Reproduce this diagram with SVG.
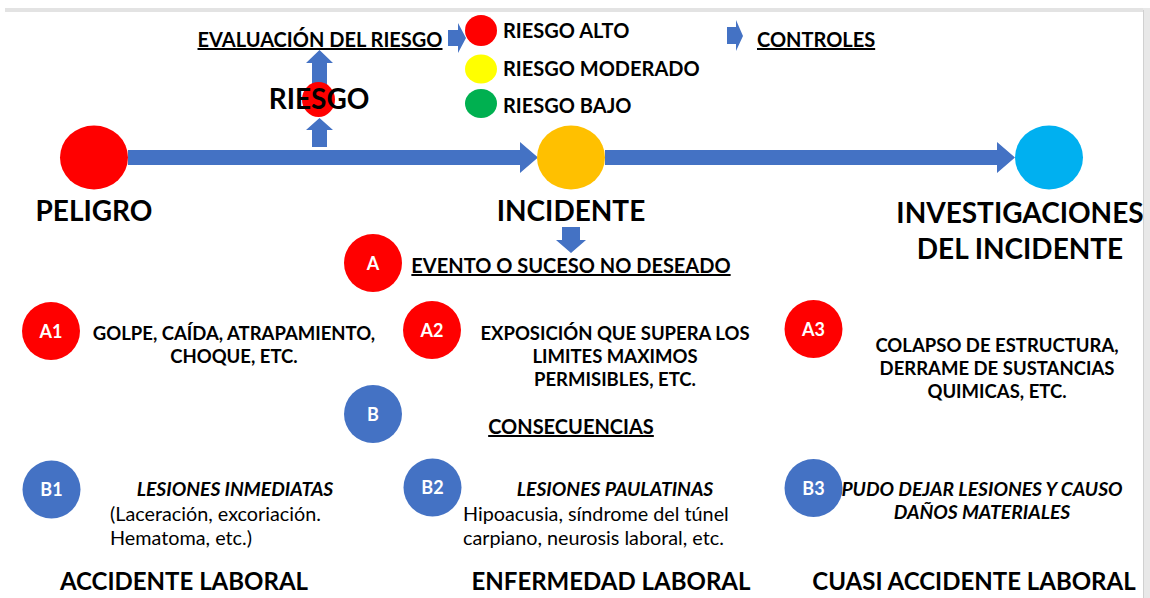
<svg xmlns="http://www.w3.org/2000/svg" width="1150" height="598" viewBox="0 0 1150 598">
<style>
text{font-family:Lato,"Open Sans","Liberation Sans",sans-serif;fill:#000}
.b{font-weight:bold}
.big{font-weight:bold;font-size:28px}
.mid{font-weight:bold;font-size:18.5px}
.mu{font-weight:bold;font-size:20px;text-decoration:underline}
.leg{font-weight:bold;font-size:20px}
.u{text-decoration:underline}
.sm{font-size:19.8px}
.it{font-weight:bold;font-style:italic;font-size:19.3px}
.lbl{font-weight:bold;font-size:18px;fill:#fff}
.bot{font-weight:bold;font-size:24px}
.c{text-anchor:middle}
.arr{fill:#4472C4}
</style>
<rect width="1150" height="598" fill="#fff"/>
<rect x="5" y="8" width="1145" height="4" fill="#e3e3e3"/>
<rect x="1143" y="8" width="7" height="590" fill="#e8e8e8"/>
<line x1="1143.5" y1="10" x2="1143.5" y2="598" stroke="#d0d0d0" stroke-width="1"/>

<g id="connectors">
  <polygon class="arr" points="128,150 520,150 520,142 538,157.5 520,173 520,165 128,165"/>
  <polygon class="arr" points="605,150 997,150 997,142 1015,157.5 997,173 997,165 605,165"/>
  <polygon class="arr" points="312,147 312,130 306,130 319.5,118 333,130 327,130 327,147"/>
  <polygon class="arr" points="312,95 312,63 306,63 319.5,50 333,63 327,63 327,95"/>
  <polygon class="arr" points="448,30 458,30 458,23 466,38 458,53 458,46 448,46"/>
  <polygon class="arr" points="727,27 736,27 736,20 743,36 736,51 736,44 727,44"/>
  <polygon class="arr" points="562,227 580,227 580,240 586,240 571,253 556,240 562,240"/>
</g>

<g id="peligro">
  <ellipse cx="94" cy="157.5" rx="34" ry="32" fill="#FF0000"/>
  <text class="big c" x="94" y="221">PELIGRO</text>
</g>
<g id="incidente">
  <ellipse cx="571" cy="157.5" rx="34" ry="32" fill="#FFC000"/>
  <text class="big c" x="571" y="221">INCIDENTE</text>
</g>
<g id="investigaciones">
  <ellipse cx="1049" cy="157.5" rx="34" ry="32" fill="#00B0F0"/>
  <text class="big c" x="1020" y="223">INVESTIGACIONES</text>
  <text class="big c" x="1020" y="259">DEL INCIDENTE</text>
</g>
<g id="riesgo">
  <ellipse cx="318.5" cy="99.5" rx="16.5" ry="17.5" fill="#FF0000"/>
  <text class="b c" x="319" y="109" font-size="28">RIESGO</text>
</g>
<g id="evaluacion">
  <text class="leg u c" x="320" y="47">EVALUACIÓN DEL RIESGO</text>
</g>
<g id="riesgo-alto">
  <ellipse cx="481" cy="30.5" rx="16" ry="15.5" fill="#FF0000"/>
  <text class="leg" x="503" y="38">RIESGO ALTO</text>
</g>
<g id="riesgo-moderado">
  <ellipse cx="481" cy="69" rx="16" ry="14.5" fill="#FFFF00"/>
  <text class="leg" x="503" y="76">RIESGO MODERADO</text>
</g>
<g id="riesgo-bajo">
  <ellipse cx="481" cy="103.5" rx="16" ry="14.5" fill="#00B050"/>
  <text class="leg" x="503" y="113">RIESGO BAJO</text>
</g>
<g id="controles">
  <text class="leg u" x="757" y="47">CONTROLES</text>
</g>

<g id="A">
  <circle cx="373" cy="263" r="29" fill="#FF0000"/>
  <text class="lbl c" x="373" y="269.5">A</text>
  <text class="mu c" x="571" y="273">EVENTO O SUCESO NO DESEADO</text>
</g>
<g id="A1">
  <circle cx="51" cy="331" r="29" fill="#FF0000"/>
  <text class="lbl c" x="51" y="337.5">A1</text>
  <text class="mid c" x="234" y="340">GOLPE, CAÍDA, ATRAPAMIENTO,</text>
  <text class="mid c" x="234" y="363">CHOQUE, ETC.</text>
</g>
<g id="A2">
  <circle cx="432" cy="330" r="29" fill="#FF0000"/>
  <text class="lbl c" x="432" y="336.5">A2</text>
  <text class="mid c" x="615" y="340">EXPOSICIÓN QUE SUPERA LOS</text>
  <text class="mid c" x="615" y="363">LIMITES MAXIMOS</text>
  <text class="mid c" x="615" y="386">PERMISIBLES, ETC.</text>
</g>
<g id="A3">
  <circle cx="813.5" cy="329" r="29" fill="#FF0000"/>
  <text class="lbl c" x="813.5" y="335.5">A3</text>
  <text class="mid c" x="997" y="352">COLAPSO DE ESTRUCTURA,</text>
  <text class="mid c" x="997" y="375">DERRAME DE SUSTANCIAS</text>
  <text class="mid c" x="997" y="398">QUIMICAS, ETC.</text>
</g>
<g id="B">
  <circle cx="373" cy="414" r="29" fill="#4472C4"/>
  <text class="lbl c" x="373" y="420.5">B</text>
  <text class="mu c" x="571" y="434">CONSECUENCIAS</text>
</g>
<g id="B1">
  <circle cx="51.5" cy="489.5" r="29" fill="#4472C4"/>
  <text class="lbl c" x="51.5" y="496">B1</text>
  <text class="it c" x="235" y="496">LESIONES INMEDIATAS</text>
  <text class="sm" x="110" y="521">(Laceración, excoriación.</text>
  <text class="sm" x="110" y="545">Hematoma, etc.)</text>
  <text class="bot c" x="184" y="590">ACCIDENTE LABORAL</text>
</g>
<g id="B2">
  <circle cx="432.5" cy="487.5" r="29" fill="#4472C4"/>
  <text class="lbl c" x="432.5" y="494">B2</text>
  <text class="it c" x="615" y="496">LESIONES PAULATINAS</text>
  <text class="sm" x="463" y="521">Hipoacusia, síndrome del túnel</text>
  <text class="sm" x="463" y="545">carpiano, neurosis laboral, etc.</text>
  <text class="bot c" x="611" y="590">ENFERMEDAD LABORAL</text>
</g>
<g id="B3">
  <circle cx="813.5" cy="488" r="29" fill="#4472C4"/>
  <text class="lbl c" x="813.5" y="494.5">B3</text>
  <text class="it c" x="982" y="496">PUDO DEJAR LESIONES Y CAUSO</text>
  <text class="it c" x="982" y="519">DAÑOS MATERIALES</text>
  <text class="bot c" x="974" y="590">CUASI ACCIDENTE LABORAL</text>
</g>
</svg>
